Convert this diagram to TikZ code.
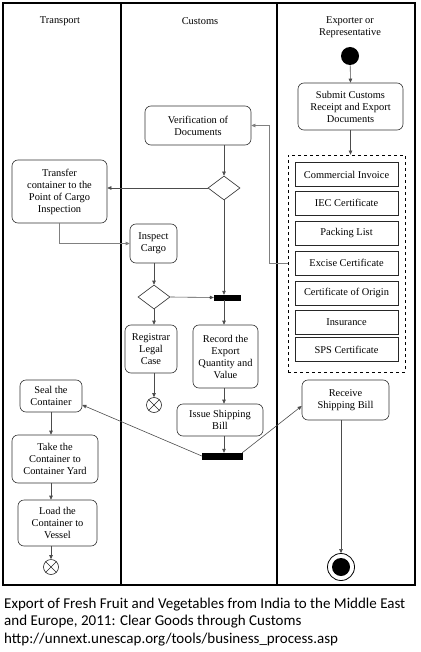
\documentclass[tikz,border=0pt]{standalone}
\usepackage{fontspec}
\setmainfont{Liberation Serif}
\newfontfamily\capfont{Carlito}
\usetikzlibrary{arrows.meta}
\usetikzlibrary{shapes.geometric}

\begin{document}
\begin{tikzpicture}[
		x=1pt, y=-1pt,
		every node/.style={font=\fontsize{10.4}{12}\selectfont},
		act/.style={draw=black!80, rounded corners=6pt, align=center, inner sep=1pt, line width=0.6pt},
		doc/.style={draw=black!85, align=center, inner sep=1pt, minimum width=103pt, minimum height=24pt, line width=0.6pt},
		decision/.style={diamond, draw=black!85, inner sep=0pt, minimum width=32pt, minimum height=24pt, line width=0.6pt},
		bar/.style={fill=black, draw=black, inner sep=0pt, minimum height=5pt},
		flow/.style={draw=black!70, line width=0.6pt, -{Triangle[length=4pt,width=3.5pt]}},
		link/.style={draw=black!50, line width=0.6pt, -{Triangle[length=4pt,width=3.5pt]}},
		lane/.style={font=\fontsize{10.4}{12}\selectfont, align=center}
		]
		
		\useasboundingbox (0,0) rectangle (420,652);
		
		% Swimlanes
		\draw[line width=2.5pt] (3,3) rectangle (415,585);
		\draw[line width=1.4pt] (121,3) -- (121,585);
		\draw[line width=1.4pt] (277,3) -- (277,585);
		\node[lane] (hTrans) at (60,21) {Transport};
		\node[lane] (hCust)  at (200,21) {Customs};
		\node[lane] (hExp)   at (350,27) {Exporter or\\Representative};
		
		% Exporter lane
		\node[circle, fill=black, minimum size=18pt, inner sep=0pt] (start) at (350,56) {};
		\node[act, minimum width=105pt, minimum height=47pt] (submit) at (350.5,106.5) {Submit Customs\\Receipt and Export\\Documents};
		\node[draw, dashed, line width=0.7pt, minimum width=117pt, minimum height=217pt, inner sep=0pt] (docs) at (346.5,263.5) {};
		\node[doc] (invoice) at (346.5,174.5) {Commercial Invoice};
		\node[doc] (iec)     at (346.5,203) {IEC Certificate};
		\node[doc] (packing) at (346.5,233) {Packing List};
		\node[doc] (excise)  at (346.5,263) {Excise Certificate};
		\node[doc] (origin)  at (346.5,293) {Certificate of Origin};
		\node[doc] (insur)   at (346.5,322) {Insurance};
		\node[doc] (sps)     at (346.5,349.5) {SPS Certificate};
		\node[act, minimum width=87pt, minimum height=40pt] (receive) at (345.5,400) {Receive\\Shipping Bill};
		\node[circle, draw=black, line width=0.8pt, minimum size=27pt, inner sep=0pt] (final) at (341,567) {};
		\node[circle, fill=black, minimum size=18pt, inner sep=0pt] (finalIn) at (341,567) {};
		
		% Customs lane
		\node[act, minimum width=106pt, minimum height=39pt] (verif) at (198,125.5) {Verification of\\Documents};
		\node[decision] (dec1) at (224,188) {};
		\node[act, minimum width=47pt, minimum height=39pt] (inspect) at (153.5,243.5) {Inspect\\Cargo};
		\node[decision] (dec2) at (154,297) {};
		\node[bar, minimum width=26pt] (fork) at (227,297.5) {};
		\node[act, minimum width=52pt, minimum height=48pt] (legal) at (151,349) {Registrar\\Legal\\Case};
		\node[circle, draw=black!85, line width=0.6pt, minimum size=15pt, inner sep=0pt] (endLegal) at (154,405) {};
		\node[act, minimum width=65pt, minimum height=63pt] (record) at (225.5,356.5) {Record the\\Export\\Quantity and\\Value};
		\node[act, minimum width=86pt, minimum height=32pt] (issue) at (220,420) {Issue Shipping\\Bill};
		\node[bar, minimum width=40pt, minimum height=6pt] (join) at (222,456) {};
		
		% Transport lane
		\node[act, minimum width=95pt, minimum height=63pt] (transfer) at (59.5,191.5) {Transfer\\container to the\\Point of Cargo\\Inspection};
		\node[act, minimum width=62pt, minimum height=32pt] (seal) at (51,396) {Seal the\\Container};
		\node[act, minimum width=86pt, minimum height=48pt] (take) at (55,459) {Take the\\Container to\\Container Yard};
		\node[act, minimum width=79pt, minimum height=46pt] (load) at (57.5,523) {Load the\\Container to\\Vessel};
		\node[circle, draw=black!85, line width=0.6pt, minimum size=15pt, inner sep=0pt] (endLoad) at (51,567) {};
		
		% Crosses of the flow ends
		\draw[black!85, line width=0.6pt] (endLegal.45) -- (endLegal.225) (endLegal.135) -- (endLegal.-45);
		\draw[black!85, line width=0.6pt] (endLoad.45) -- (endLoad.225) (endLoad.135) -- (endLoad.-45);
		
		% Flows
		\draw[flow] (start) -- (submit.north);
		\draw[flow] (submit.south) -- (submit.south |- docs.north);
		\draw[link] (excise.west -| docs.west) -- ++(-18,0) |- (verif.east);
		\draw[flow] (dec1.north |- verif.south) -- (dec1.north);
		\draw[flow] (dec1.west) -- (dec1.west -| transfer.east);
		\draw[link] (transfer.south) |- (inspect.west);
		\draw[flow] (inspect.south -| dec2) -- (dec2.north);
		\draw[flow] (dec2.east) -- (fork.west);
		\draw[flow] (dec2.south) -- (dec2.south |- legal.north);
		\draw[flow] (dec2.south |- legal.south) -- (endLegal.north);
		\draw[flow] (dec1.south) -- (dec1.south |- fork.north);
		\draw[flow] (dec1.south |- fork.south) -- (dec1.south |- record.north);
		\draw[flow] (dec1.south |- record.south) -- (dec1.south |- issue.north);
		\draw[flow] (dec1.south |- issue.south) -- (dec1.south |- join.north);
		\draw[flow] (join.west) -- ([yshift=-9pt]seal.east);
		\draw[flow] (join.north east) -- ([yshift=-6pt]receive.west);
		\draw[flow] (seal.south) -- (seal.south |- take.north);
		\draw[flow] (seal.south |- take.south) -- (seal.south |- load.north);
		\draw[flow] (seal.south |- load.south) -- (endLoad.north);
		\draw[flow] (final.north |- receive.south) -- (final.north);
		
		% Caption
		\node[anchor=base west, align=left, inner sep=0pt, font=\capfont\fontsize{15}{17.5}\selectfont] (caption) at (4,643)
		{Export of Fresh Fruit and Vegetables from India to the Middle East\\and Europe, 2011: Clear Goods through Customs\\http://unnext.unescap.org/tools/business\_process.asp};
		
	\end{tikzpicture}
\end{document}
